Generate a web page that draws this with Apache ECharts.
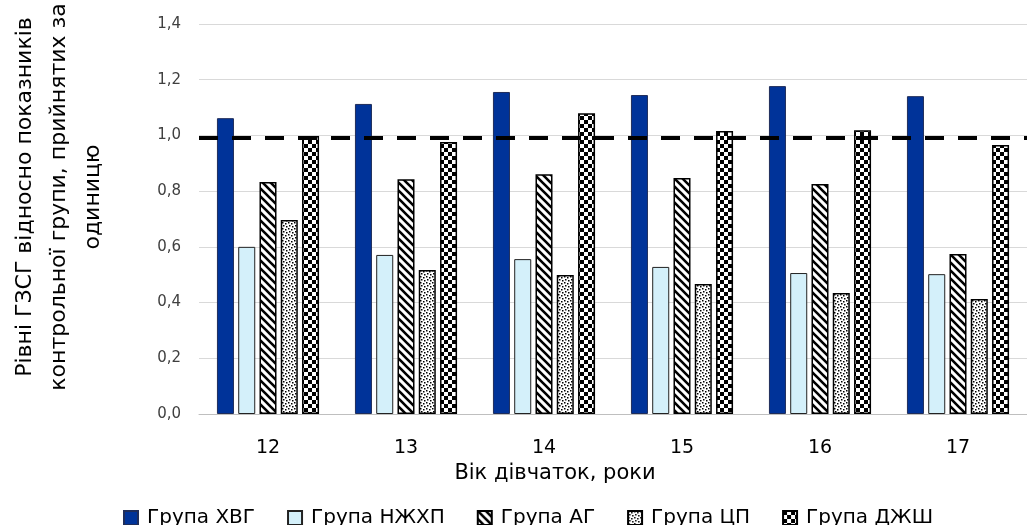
<!DOCTYPE html>
<html><head><meta charset="utf-8">
<script src="https://cdn.jsdelivr.net/npm/echarts@6/dist/echarts.min.js"></script>
<style>html,body{margin:0;padding:0;background:#fff}#c{width:1027px;height:525px}</style>
</head><body><div id="c"></div>
<script>
const categories = ['12','13','14','15','16','17'];
const seriesNames = ['Група ХВГ','Група НЖХП','Група АГ','Група ЦП','Група ДЖШ'];
const hvg  = [1.062, 1.113, 1.156, 1.145, 1.177, 1.141];
const nzhhp = [0.600, 0.571, 0.556, 0.528, 0.506, 0.502];
const ag   = [0.833, 0.843, 0.861, 0.847, 0.826, 0.574];
const cp   = [0.696, 0.517, 0.499, 0.467, 0.434, 0.413];
const dzhsh = [0.998, 0.976, 1.080, 1.016, 1.019, 0.966];
const referenceLevel = 0.986;
const yTicks = {min: 0, max: 1.4, interval: 0.2};

function tile(w, h, draw) {
  const c = document.createElement('canvas');
  c.width = w; c.height = h;
  const g = c.getContext('2d');
  g.fillStyle = '#fff'; g.fillRect(0, 0, w, h);
  g.fillStyle = '#000'; g.strokeStyle = '#000';
  draw(g);
  return {image: c, repeat: 'repeat'};
}
const stripes = tile(8, 8, g => {
  g.lineWidth = 2.6;
  g.beginPath();
  g.moveTo(-2, -2); g.lineTo(10, 10);
  g.moveTo(-10, -2); g.lineTo(2, 10);
  g.moveTo(6, -2); g.lineTo(18, 10);
  g.stroke();
});
const dots = tile(6, 6, g => {
  g.fillRect(0, 0, 1.5, 1.5);
  g.fillRect(3, 1, 1.5, 1.5);
  g.fillRect(1, 3, 1.5, 1.5);
  g.fillRect(4, 4, 1.5, 1.5);
});
const checker = tile(8, 8, g => {
  g.fillRect(0, 0, 4, 4);
  g.fillRect(4, 4, 4, 4);
});

const styles = [
  {color: '#003399', borderColor: '#1f2d5a', borderWidth: 1},
  {color: '#d4f0fa', borderColor: '#222', borderWidth: 1},
  {color: stripes, borderColor: '#000', borderWidth: 1.5},
  {color: dots, borderColor: '#000', borderWidth: 1.5},
  {color: checker, borderColor: '#000', borderWidth: 1.5}
];
const dataSets = [hvg, nzhhp, ag, cp, dzhsh];
const FONT = '"DejaVu Sans", sans-serif';

const series = dataSets.map((d, i) => ({
  name: seriesNames[i], type: 'bar', data: d,
  barGap: '25%', barCategoryGap: '26%',
  itemStyle: styles[i],
  emphasis: {disabled: true}
}));
series[0].markLine = {
  symbol: 'none', silent: true, label: {show: false},
  lineStyle: {color: '#000', width: 4, type: [19, 14]},
  data: [{yAxis: referenceLevel}]
};

const chart = echarts.init(document.getElementById('c'));
chart.setOption({
  animation: false,
  textStyle: {fontFamily: FONT},
  grid: {left: 199, right: 0, top: 24, bottom: 111, outerBoundsMode: 'none', containLabel: false},
  legend: {
    top: 508, left: 123, padding: 0, itemWidth: 14, itemHeight: 14, itemGap: 32,
    icon: 'rect',
    textStyle: {fontSize: 20, color: '#000', fontFamily: FONT, padding: [0, 0, 0, 4]},
    data: seriesNames
  },
  xAxis: {
    type: 'category', data: categories,
    name: 'Вік дівчаток, роки', nameLocation: 'middle', nameGap: 45,
    nameTextStyle: {fontSize: 21, color: '#000', padding: [0, 116, 0, 0]},
    axisLine: {lineStyle: {color: '#bfbfbf', width: 1}},
    axisTick: {show: false},
    axisLabel: {fontSize: 19, color: '#000', margin: 25}
  },
  yAxis: {
    type: 'value', min: yTicks.min, max: yTicks.max, interval: yTicks.interval,
    name: 'Рівні ГЗСГ відносно показників\nконтрольної групи, прийнятих за\nодиницю',
    nameLocation: 'middle', nameRotate: 90, nameGap: 89,
    nameTextStyle: {fontSize: 22, color: '#000', lineHeight: 34, align: 'center', padding: [0, 0, 0, 44]},
    axisLine: {show: false}, axisTick: {show: false},
    splitLine: {lineStyle: {color: '#d9d9d9', width: 1}},
    axisLabel: {fontSize: 15, color: '#404040', margin: 18,
      formatter: v => v.toFixed(1).replace('.', ',')}
  },
  series: series
});
</script></body></html>
